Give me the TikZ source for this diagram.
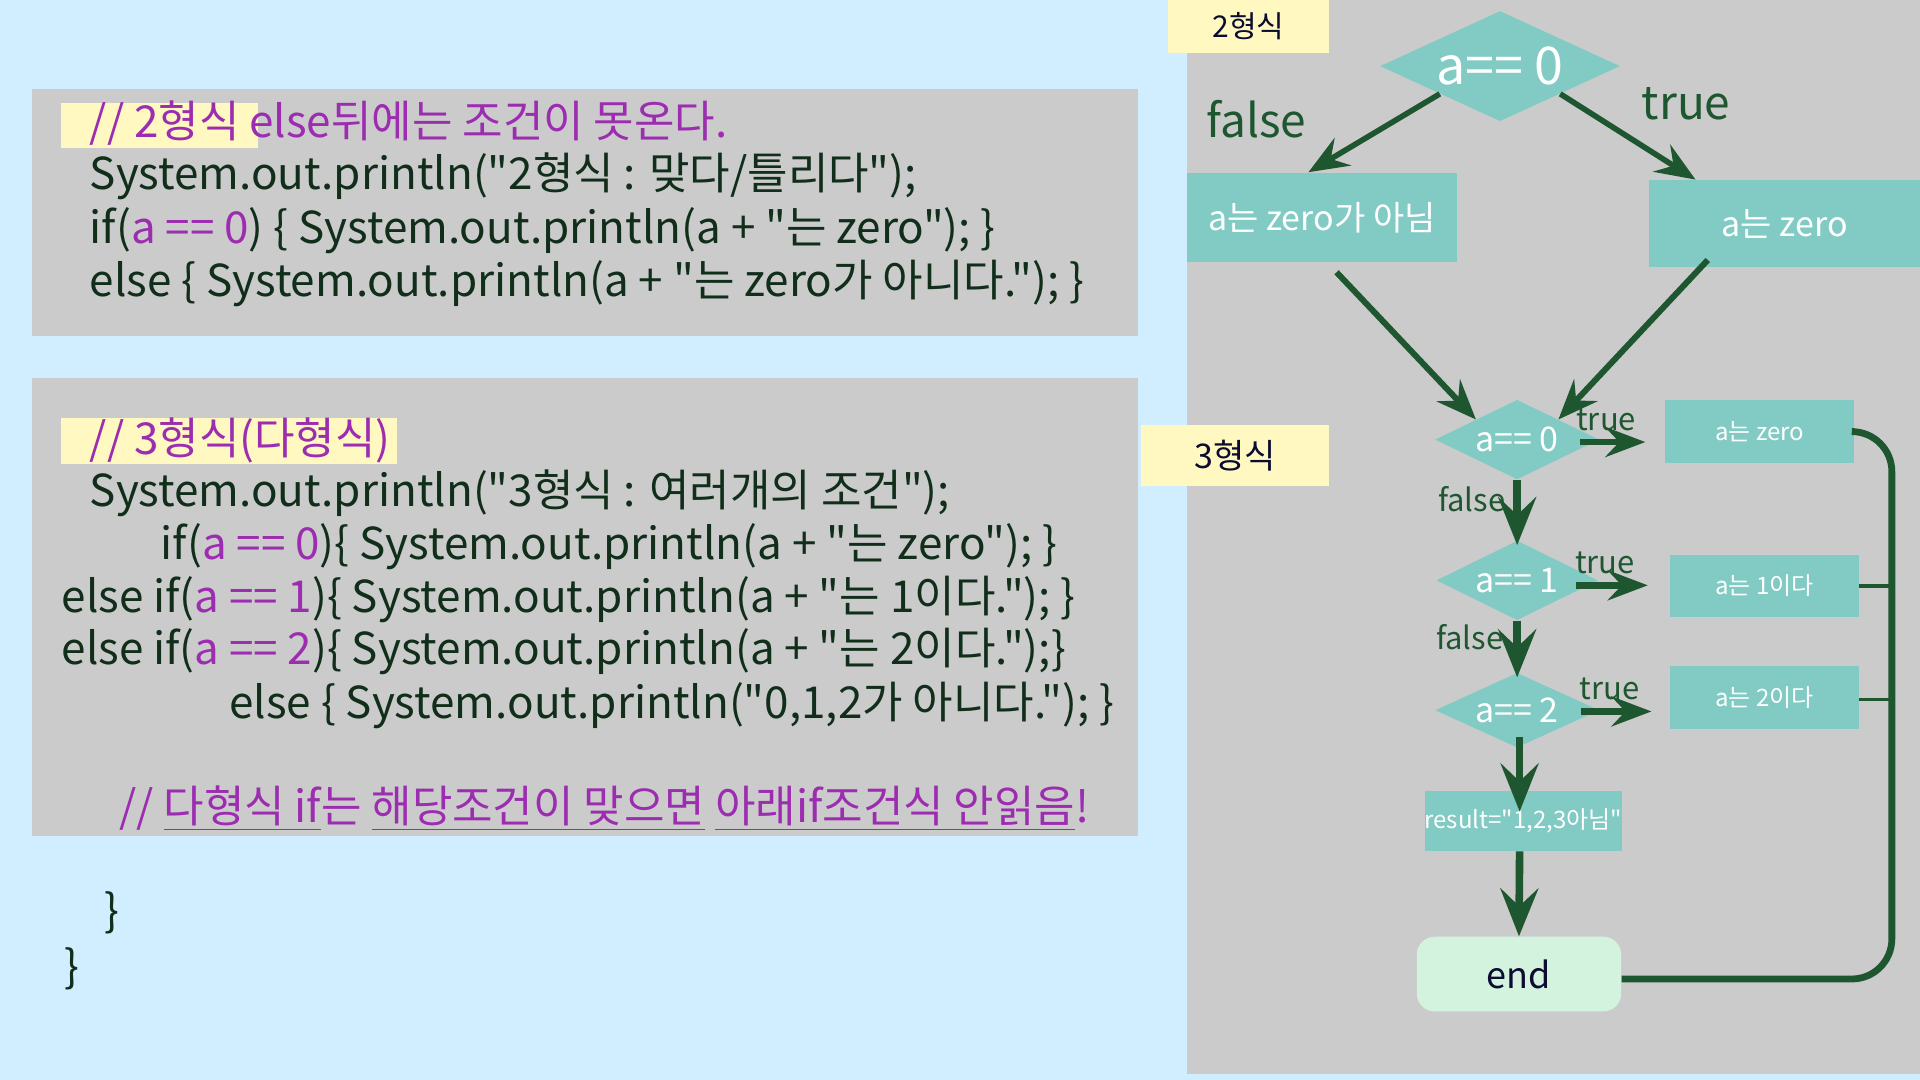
\documentclass[tikz,border=0pt]{standalone}
\usepackage{fontspec}
\setmainfont{Noto Sans CJK KR}[Ligatures=TeXOff]
\usetikzlibrary{shapes.geometric, arrows.meta, positioning, calc}

\definecolor{skybg}{RGB}{208,238,255}
\definecolor{panelgray}{RGB}{203,203,203}
\definecolor{notey}{RGB}{255,248,193}
\definecolor{kwpurple}{RGB}{156,45,176}
\definecolor{codeink}{RGB}{16,46,26}
\definecolor{tealbox}{RGB}{130,203,196}
\definecolor{flowgreen}{RGB}{30,86,48}
\definecolor{endmint}{RGB}{211,243,223}
\definecolor{tagink}{RGB}{12,12,48}

\newcommand{\px}{0.6122pt}
\newcommand{\kw}[1]{\textcolor{kwpurple}{#1}}

\begin{document}
\begin{tikzpicture}[
    x=0.6122pt, y=-0.6122pt,
    codeline/.style={anchor=base west, inner sep=0pt, font=\fontsize{22}{26}\selectfont, text=codeink},
    comment/.style={codeline, text=kwpurple},
    decision/.style={diamond, fill=tealbox, inner sep=0pt, aspect=2, text=white},
    procbox/.style={rectangle, fill=tealbox, inner sep=0pt, text=white},
    tag/.style={rectangle, fill=notey, inner sep=0pt, text=tagink},
    flowlabel/.style={inner sep=0pt, text=flowgreen},
    flowarrow/.style={-{Stealth[length=24pt, width=19pt, inset=9pt]}, line width=3.8pt, flowgreen},
    diagarrow/.style={-{Stealth[length=20pt, width=16pt, inset=7pt]}, line width=2.8pt, flowgreen},
    sidearrow/.style={-{Stealth[length=20pt, width=15pt, inset=7pt]}, line width=3.2pt, flowgreen},
    rail/.style={line width=3.4pt, flowgreen, rounded corners=20pt},
    stub/.style={line width=1.6pt, flowgreen}
]

% background and panels
\useasboundingbox (0,0) rectangle (1568,882);
\fill[skybg] (0,0) rectangle (1568,882);
\fill[panelgray] (26,73) rectangle (929,274);
\fill[panelgray] (26,309) rectangle (929,683);
\fill[panelgray] (969,0) rectangle (1568,877);
\fill[notey] (50,84) rectangle (211,121);
\fill[notey] (50,341) rectangle (324,379);

% 2형식 code
\node (c1a) [comment] at (73,112) {// 2형식 else뒤에는 조건이 못온다.};
\node (c1b) [codeline] at (73,155) {System.out.println("2형식 : 맞다/틀리다");};
\node (c1c) [codeline] at (73,199) {if(\kw{a == 0}) \{ System.out.println(a + "는 zero"); \}};
\node (c1d) [codeline] at (73,242) {else \{ System.out.println(a + "는 zero가 아니다."); \}};

% 3형식 code
\node (c2a) [comment] at (73,371) {// 3형식(다형식)};
\node (c2b) [codeline] at (73,414) {System.out.println("3형식 : 여러개의 조건");};
\node (c2c) [codeline] at (131,457) {if(\kw{a == 0})\{ System.out.println(a + "는 zero"); \}};
\node (c2d) [codeline] at (50,500) {else if(\kw{a == 1})\{ System.out.println(a + "는 1이다."); \}};
\node (c2e) [codeline] at (50,543) {else if(\kw{a == 2})\{ System.out.println(a + "는 2이다.");\}};
\node (c2f) [codeline] at (187,587) {else \{ System.out.println("0,1,2가 아니다."); \}};
\node (c2g) [comment] at (97,672) {// \underline{다형식 if}는 \underline{해당조건이 맞으면} \underline{아래if조건식 안읽음}!};
\node (br1) [codeline] at (85,757) {\}};
\node (br2) [codeline] at (52,802) {\}};

% 2형식 flow
\node (tag2) [tag, minimum width=131*\px, minimum height=43*\px, font=\fontsize{15}{15}\selectfont] at (1019.5,21.5) {2형식};
\node (d0) [decision, minimum width=196*\px, minimum height=90*\px, font=\fontsize{26}{26}\selectfont] at (1225,54) {a== 0};
\node (f0) [procbox, minimum width=221*\px, minimum height=73*\px, font=\fontsize{17}{17}\selectfont] at (1079.5,177.5) {a는 zero가 아님};
\node (t0) [procbox, minimum width=221*\px, minimum height=71*\px, font=\fontsize{17}{17}\selectfont] at (1457.5,182.5) {a는 zero};
\node (lf0) [flowlabel, font=\fontsize{23}{23}\selectfont] at (1026,97) {false};
\node (lt0) [flowlabel, font=\fontsize{23}{23}\selectfont] at (1377,85) {true};

% 3형식 flow
\node (tag3) [tag, minimum width=153*\px, minimum height=50*\px, font=\fontsize{17}{17}\selectfont] at (1008.5,372) {3형식};
\node (d1) [decision, minimum width=134*\px, minimum height=65*\px, font=\fontsize{17}{17}\selectfont] at (1239,359) {a== 0};
\node (d2) [decision, minimum width=132*\px, minimum height=65*\px, font=\fontsize{17}{17}\selectfont] at (1239,474) {a== 1};
\node (d3) [decision, minimum width=134*\px, minimum height=61*\px, font=\fontsize{17}{17}\selectfont] at (1239,580) {a== 2};
\node (z0) [procbox, minimum width=154*\px, minimum height=51*\px, font=\fontsize{12}{12}\selectfont] at (1437,352.5) {a는 zero};
\node (z1) [procbox, minimum width=154*\px, minimum height=51*\px, font=\fontsize{12}{12}\selectfont] at (1441,478.5) {a는 1이다};
\node (z2) [procbox, minimum width=154*\px, minimum height=51*\px, font=\fontsize{12}{12}\selectfont] at (1441,569.5) {a는 2이다};
\node (res) [procbox, minimum width=154*\px, minimum height=49*\px, font=\fontsize{12}{12}\selectfont] at (1244,670.5) {result="1,2,3아님"};
\node (en) [rectangle, rounded corners=9pt, fill=endmint, text=tagink, minimum width=167*\px, minimum height=61*\px, font=\fontsize{18}{18}\selectfont] at (1240.5,795.5) {end};
\coordinate (railx) at (1545,0);

% arrows
\draw[diagarrow] (d0.south west) -- ([xshift=-11*\px]f0.north);
\draw[diagarrow] (d0.south east) -- ([xshift=38*\px]t0.north west);
\draw[diagarrow, line width=3pt] ([xshift=12*\px, yshift=-8*\px]f0.south) -- (d1.north west);
\draw[diagarrow, line width=3pt] ([xshift=48*\px, yshift=6*\px]t0.south west) -- (d1.north east);

\draw[flowarrow] (d1.south) -- node[flowlabel, left=4pt, pos=0.3, font=\fontsize{15.5}{15.5}\selectfont] {false} ([yshift=-4*\px]d2.north);
\draw[flowarrow] (d2.south) -- node[flowlabel, left=5pt, pos=0.3, font=\fontsize{15.5}{15.5}\selectfont] {false} ([yshift=-4*\px]d3.north);
\draw[flowarrow] ([xshift=2*\px, yshift=9*\px]d3.south) -- ([xshift=-3*\px, yshift=-17*\px]res.north);
\draw[flowarrow] ([xshift=-3*\px]res.south) -- ([xshift=0*\px]en.north);

\draw[sidearrow] ([xshift=-16*\px, yshift=-2*\px]d1.east) -- node[flowlabel, above=4pt, pos=0.4, font=\fontsize{15.5}{15.5}\selectfont] {true} ([xshift=-16*\px, yshift=-2*\px]d1.east -| z0.west);
\draw[sidearrow] ([xshift=-18*\px, yshift=-4*\px]d2.east) -- node[flowlabel, above=4pt, pos=0.4, font=\fontsize{15.5}{15.5}\selectfont] {true} ([xshift=-18*\px, yshift=-4*\px]d2.east -| z1.west);
\draw[sidearrow] ([xshift=-15*\px, yshift=-1*\px]d3.east) -- node[flowlabel, above=4pt, pos=0.4, font=\fontsize{15.5}{15.5}\selectfont] {true} ([xshift=-15*\px, yshift=-1*\px]d3.east -| z2.west);

\draw[rail] (z0.east) -| ([yshift=-4*\px]railx |- en.east) -- ([yshift=-4*\px]en.east);
\draw[stub] (z1.east) -- (z1.east -| railx);
\draw[stub] ([yshift=-2*\px]z2.east) -- ([yshift=-2*\px]z2.east -| railx);

\end{tikzpicture}
\end{document}
